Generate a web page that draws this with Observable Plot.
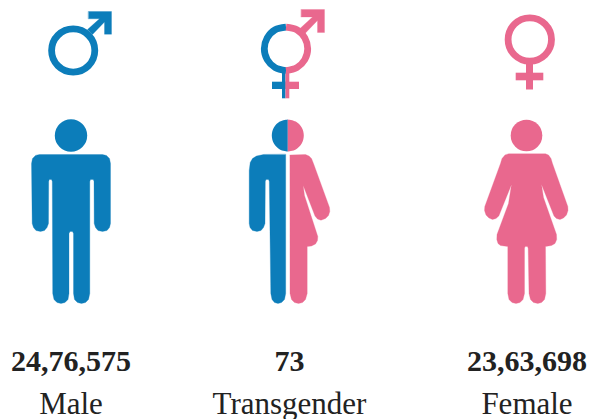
<!DOCTYPE html>
<html>
<head>
<meta charset="utf-8">
<script src="https://cdn.jsdelivr.net/npm/d3@7"></script>
<script src="https://cdn.jsdelivr.net/npm/@observablehq/plot@0.6"></script>
<style>html,body{margin:0;padding:0;background:#fff}svg{display:block}</style>
</head>
<body>
<div id="chart"></div>
<script>
const categories = ["Male", "Transgender", "Female"];
const valueLabels = ["24,76,575", "73", "23,63,698"];
const columnCentres = [70.5, 289, 526.5];

const blue = "#0c7dba";
const pink = "#e9688e";

// Glyph outlines, in picture units
const maleBody = [[39,154],[102,154],[106,155],[109,158],[110,163],[110,223],[109,227],[106.5,230],[102,231],[97.5,230],[95,227],[93.7,223],[93.5,181],[92.8,179],[90,179],[89.3,181],[89.3,293],[88,299],[85,302],[81,303],[77,302],[74,299],[73,293],[73,233],[72,231],[69.5,231],[68.5,233],[68.5,293],[67.5,299],[64.5,302],[60.5,303],[56.5,302],[53.5,299],[52.2,293],[51.8,181],[51,179],[48.8,179],[48.2,181],[48,223],[46.5,227],[44,230],[40,231],[35.5,230],[33,227],[31.7,223],[31,163],[32,158],[35,155]];
const transBlueBody = [[285.2,154],[285.2,293],[284,299],[281,302],[277.5,303],[274,302],[271.5,299],[270.3,293],[268.8,181],[268,179],[265.5,179],[264.8,181],[264.5,223],[263,227],[260.5,230],[256.5,231],[252,230],[249.5,227],[248.7,223],[248.7,170],[249.7,162],[252,158],[256,155.5],[263,154]];
const transPinkBody = [[289.5,154.5],[305,154],[308.5,155.5],[311,158],[313,163],[329,207],[329.3,211],[328,215],[325,218],[320.5,219.7],[317,218.5],[314.5,215.5],[302.7,185],[304,195],[317.3,236],[317,240],[315,243.5],[311,245.5],[306.7,246],[306.7,293],[305,299],[302,302],[298,303],[294,302],[291,299],[289.5,293]];
const femaleBody = [[508.3,153.3],[545,153.3],[548,154.5],[550.5,158],[552,163],[567.3,206],[567.5,210],[566,214.5],[563,217.5],[559.5,219],[556,218],[553.5,215.5],[541,184],[543,197],[556,234],[556.2,239],[554.5,243],[551,245],[545,246],[545.3,293],[544,299],[541,302],[537.3,303],[533,302],[530,299],[528.5,293],[527.7,248],[527,246],[524.5,246],[524,248],[524,293],[522.5,299],[519.5,302],[515.5,303],[511.5,302],[508.5,299],[507.3,293],[507.3,246],[500,245],[497.5,243],[496.3,239],[496.5,234],[508,203],[511,184],[498.3,215.5],[495.5,218],[492,219],[488.5,217.5],[485.5,214.5],[484,210],[484.3,206],[500,163],[501.5,158],[504.5,154.5]];
const transHeadBlue = [[287.3,119],[279.3,121.1],[273.4,127],[271.3,135],[273.4,143],[279.3,148.9],[287.3,151]];
const transHeadPink = [[287.3,119],[295.3,121.1],[301.2,127],[303.3,135],[301.2,143],[295.3,148.9],[287.3,151]];
const transRingBlue = [[285.5,26.6],[274.65,29.2],[266.7,37.45],[263.8,48.3],[266.7,59.15],[274.65,67.1],[285.5,70]];
const transRingPink = [[285.5,26.6],[296.35,29.2],[304.3,37.45],[307.2,48.3],[304.3,59.15],[296.35,67.1],[285.5,70]];
const maleArrow = [[88,11],[111,11],[111,33.7],[104,33.7],[104,21.5],[92,34],[87,29],[99,18.3],[88,18.3]];
const transArrow = [[300.7,9],[324,9],[324,32],[317,32],[317,20],[304.5,33],[299.5,28],[312,16.5],[300.7,16.5]];

// Rectangular bars of the symbols: stems and crossbars
const bars = [
  {x1:282, x2:285.5, y1:70, y2:98.3, fill:blue},
  {x1:285.5, x2:289.3, y1:70, y2:98.3, fill:pink},
  {x1:272, x2:285.5, y1:81.7, y2:89, fill:blue},
  {x1:285.5, x2:299, y1:81.7, y2:89, fill:pink},
  {x1:526, x2:533, y1:62, y2:89.5, fill:pink},
  {x1:515.7, x2:543.3, y1:72.7, y2:80.3, fill:pink}
];

const toRows = pts => pts.map(([x, y]) => ({x, y}));
const sharp = (pts, fill) => Plot.line(toRows(pts), {x:"x", y:"y", fill, stroke:fill, strokeWidth:0.3, curve:"linear-closed"});
const dome = (pts, fill) => Plot.line(toRows(pts), {x:"x", y:"y", fill, stroke:"none", curve:"catmull-rom"});
const arc = (pts, stroke) => Plot.line(toRows(pts), {x:"x", y:"y", stroke, strokeWidth:6.8, strokeLinecap:"butt", curve:"catmull-rom"});

const table = categories.map((c, i) => ({category:c, value:valueLabels[i], x:columnCentres[i]}));

const chart = Plot.plot({
  width: 592, height: 419,
  margin: 0,
  x: {domain:[0,592], range:[0,592], axis:null},
  y: {domain:[0,419], range:[0,419], axis:null},
  style: {background:"#fff"},
  marks: [
    // Symbols
    Plot.dot([{x:72.7,y:50}], {x:"x", y:"y", r:21.6, stroke:blue, strokeWidth:6.8, fill:"none"}),
    sharp(maleArrow, blue),
    sharp(transArrow, pink),
    Plot.rect(bars, {x1:"x1", x2:"x2", y1:"y1", y2:"y2", fill:"fill", inset:0}),
    arc(transRingBlue, blue),
    arc(transRingPink, pink),
    Plot.dot([{x:529.3,y:39}], {x:"x", y:"y", r:21.7, stroke:pink, strokeWidth:6.8, fill:"none"}),
    // People
    Plot.dot([{x:70.5,y:135}], {x:"x", y:"y", r:16.2, fill:blue}),
    sharp(maleBody, blue),
    dome(transHeadBlue, blue),
    dome(transHeadPink, pink),
    sharp(transBlueBody, blue),
    sharp(transPinkBody, pink),
    Plot.dot([{x:526,y:135}], {x:"x", y:"y", r:15.8, fill:pink}),
    sharp(femaleBody, pink),
    // Text
    Plot.text(table, {x:"x", y:()=>370, text:"value", fontSize:30, fontWeight:"bold", fontFamily:"Liberation Serif", fill:"#222", lineAnchor:"bottom"}),
    Plot.text(table, {x:"x", y:()=>413, text:"category", fontSize:31, fontFamily:"Liberation Serif", fill:"#222", lineAnchor:"bottom"})
  ]
});
document.getElementById("chart").append(chart);
</script>
</body>
</html>
